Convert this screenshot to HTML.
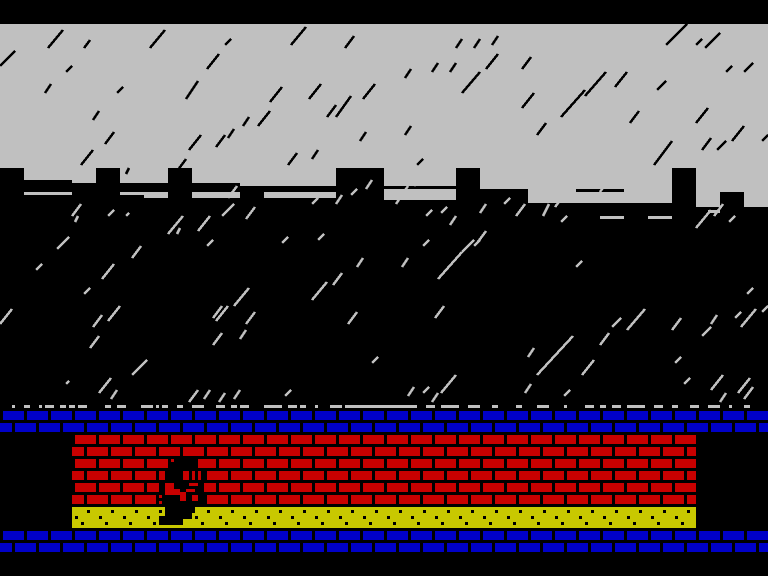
<!DOCTYPE html>
<html><head><meta charset="utf-8"><style>
html,body{margin:0;padding:0;background:#000;}
#w{position:relative;width:768px;height:576px;overflow:hidden;}
svg{display:block;position:absolute;left:0;top:0;}
.r{position:absolute;height:9px;}
.b{left:0;width:768px;background:repeating-linear-gradient(90deg,#0000c8 0 21px,transparent 21px 24px);}
.d{left:72px;width:624px;background:repeating-linear-gradient(90deg,#c80000 0 21px,transparent 21px 24px);}
.a{background-position:3px 0;}
.o{background-position:15px 0;}
</style></head><body><div id="w">
<svg width="768" height="576" viewBox="0 0 768 576" xmlns="http://www.w3.org/2000/svg" shape-rendering="crispEdges">
<rect width="768" height="576" fill="#000"/>
<rect x="0" y="24" width="768" height="190" fill="#c0c0c0"/>
<g fill="#000">
<rect x="0" y="168" width="24" height="60"/>
<rect x="24" y="180" width="48" height="50"/>
<rect x="72" y="183" width="24" height="50"/>
<rect x="96" y="168" width="24" height="60"/>
<rect x="120" y="183" width="48" height="50"/>
<rect x="168" y="168" width="24" height="60"/>
<rect x="192" y="183" width="48" height="50"/>
<rect x="240" y="186" width="96" height="50"/>
<rect x="336" y="168" width="48" height="60"/>
<rect x="384" y="200" width="72" height="30"/>
<rect x="384" y="186" width="72" height="3"/>
<rect x="456" y="168" width="24" height="60"/>
<rect x="480" y="189" width="48" height="50"/>
<rect x="528" y="203" width="48" height="30"/>
<rect x="576" y="189" width="48" height="3"/>
<rect x="576" y="203" width="96" height="30"/>
<rect x="672" y="168" width="24" height="60"/>
<rect x="696" y="207" width="24" height="30"/>
<rect x="720" y="192" width="24" height="40"/>
<rect x="744" y="207" width="24" height="30"/>
</g>
<g fill="#c0c0c0">
<rect x="24" y="192" width="48" height="3"/>
<rect x="120" y="192" width="48" height="3"/>
<rect x="144" y="192" width="24" height="6"/>
<rect x="192" y="192" width="48" height="6"/>
<rect x="264" y="192" width="72" height="6"/>
<rect x="600" y="216" width="24" height="3"/>
<rect x="648" y="216" width="24" height="3"/>
<rect x="708" y="210" width="12" height="3"/>
</g>
<g stroke="#000" stroke-width="2.5" fill="none">
<path d="M48 48 L63 30 M84 48 L90 40 M0 66 L15 51 M45 93 L51 84 M66 72 L72 66 M117 93 L123 87 M93 120 L99 111 M105 144 L114 132 M150 48 L165 30 M186 99 L198 81 M207 69 L219 54 M225 45 L231 39 M291 45 L306 27 M345 48 L354 36 M270 102 L282 87 M258 126 L270 111 M309 99 L321 84 M327 117 L336 105 M336 117 L351 96 M363 99 L375 84 M360 141 L366 132 M405 78 L411 69 M432 72 L438 63 M450 72 L456 63 M462 93 L480 72 M486 69 L498 54 M456 48 L462 39 M474 48 L480 39 M492 45 L498 36 M522 69 L531 57 M522 108 L534 93 M561 117 L585 90 M585 96 L606 72 M615 87 L627 72 M657 90 L666 81 M630 123 L639 111 M666 45 L681 30 M696 45 L702 39 M705 48 L720 33 M726 72 L732 66 M744 72 L753 63 M696 123 L708 108 M732 141 L744 126 M762 141 L768 135 M189 150 L201 135 M216 147 L225 135 M228 138 L234 129 M243 126 L249 117 M177 171 L186 159 M81 165 L93 150 M126 174 L129 168 M288 165 L297 153 M312 159 L318 150 M405 135 L411 126 M417 165 L423 159 M537 135 L546 123 M654 165 L672 141 M702 150 L711 138 M717 150 L726 141 M681 30 L687 24"/>
</g>
<g stroke="#c0c0c0" stroke-width="2.5" fill="none">
<path d="M72 216 L81 204 M75 222 L78 216 M108 216 L114 210 M126 216 L129 213 M168 234 L183 216 M177 234 L180 228 M198 231 L210 216 M222 216 L234 204 M246 219 L255 207 M228 198 L237 186 M312 204 L318 198 M336 204 L342 195 M351 195 L357 189 M366 189 L372 180 M396 204 L408 186 M414 186 L420 180 M426 216 L432 210 M441 213 L447 207 M450 225 L456 216 M477 243 L486 231 M480 213 L486 204 M504 204 L510 198 M516 216 L525 204 M543 216 L549 204 M555 207 L564 195 M561 222 L567 216 M600 192 L606 183 M696 228 L711 210 M714 216 L723 204 M729 222 L735 216 M36 270 L42 264 M57 249 L69 237 M84 294 L90 288 M102 279 L114 264 M132 258 L141 246 M207 246 L213 240 M234 306 L249 288 M216 321 L228 306 M246 324 L255 312 M282 243 L288 237 M318 240 L324 234 M312 300 L327 282 M333 285 L342 273 M357 267 L363 258 M402 267 L408 258 M423 246 L429 240 M438 279 L462 252 M462 252 L474 240 M474 246 L480 240 M576 267 L582 261 M0 324 L12 309 M93 327 L102 315 M108 321 L120 306 M90 348 L99 336 M213 318 L222 306 M213 345 L222 333 M240 339 L246 330 M348 324 L357 312 M372 363 L378 357 M435 318 L444 306 M537 375 L573 336 M528 357 L534 348 M582 375 L594 360 M600 345 L609 333 M612 327 L621 318 M627 330 L645 309 M672 330 L681 318 M711 324 L717 315 M702 336 L711 327 M741 327 L756 309 M747 294 L753 288 M735 318 L741 312 M762 312 L768 306 M675 363 L681 357 M684 384 L690 378 M711 390 L723 375 M738 393 L750 378 M744 399 L753 387 M66 384 L69 381 M99 393 L111 378 M132 375 L147 360 M111 399 L117 390 M189 402 L198 390 M204 399 L210 390 M219 402 L225 393 M234 399 L240 390 M285 396 L291 390 M408 396 L414 387 M423 393 L429 387 M432 402 L438 393 M441 393 L456 375 M564 396 L570 390 M525 393 L531 384 M720 402 L726 393"/>
</g>
<g fill="#c0c0c0">
<rect x="12" y="405" width="3" height="3"/><rect x="24" y="405" width="6" height="3"/><rect x="39" y="405" width="3" height="3"/><rect x="45" y="405" width="9" height="3"/><rect x="60" y="405" width="6" height="3"/><rect x="69" y="405" width="6" height="3"/><rect x="78" y="405" width="9" height="3"/><rect x="105" y="405" width="6" height="3"/><rect x="117" y="405" width="9" height="3"/><rect x="141" y="405" width="12" height="3"/><rect x="156" y="405" width="3" height="3"/><rect x="162" y="405" width="6" height="3"/><rect x="177" y="405" width="6" height="3"/><rect x="192" y="405" width="12" height="3"/><rect x="216" y="405" width="9" height="3"/><rect x="231" y="405" width="6" height="3"/><rect x="240" y="405" width="9" height="3"/><rect x="264" y="405" width="18" height="3"/><rect x="288" y="405" width="9" height="3"/><rect x="300" y="405" width="6" height="3"/><rect x="315" y="405" width="3" height="3"/><rect x="330" y="405" width="12" height="3"/><rect x="345" y="405" width="72" height="3"/><rect x="426" y="405" width="9" height="3"/><rect x="441" y="405" width="18" height="3"/><rect x="468" y="405" width="12" height="3"/><rect x="492" y="405" width="6" height="3"/><rect x="516" y="405" width="6" height="3"/><rect x="537" y="405" width="12" height="3"/><rect x="564" y="405" width="3" height="3"/><rect x="585" y="405" width="9" height="3"/><rect x="600" y="405" width="6" height="3"/><rect x="612" y="405" width="9" height="3"/><rect x="627" y="405" width="18" height="3"/><rect x="654" y="405" width="9" height="3"/><rect x="672" y="405" width="6" height="3"/><rect x="690" y="405" width="9" height="3"/><rect x="708" y="405" width="12" height="3"/><rect x="729" y="405" width="3" height="3"/><rect x="744" y="405" width="6" height="3"/>
</g>
</svg>
<div class="r b a" style="top:411px"></div>
<div class="r b o" style="top:423px"></div>
<div class="r d a" style="top:435px"></div>
<div class="r d o" style="top:447px"></div>
<div class="r d a" style="top:459px"></div>
<div class="r d o" style="top:471px"></div>
<div class="r d a" style="top:483px"></div>
<div class="r d o" style="top:495px"></div>
<div class="r b a" style="top:531px"></div>
<div class="r b o" style="top:543px"></div>
<svg width="768" height="576" viewBox="0 0 768 576" xmlns="http://www.w3.org/2000/svg" shape-rendering="crispEdges">
<defs>
<pattern id="dots" x="72" y="507" width="24" height="21" patternUnits="userSpaceOnUse"><rect x="15" y="3" width="3" height="3" fill="#000"/><rect x="3" y="9" width="3" height="3" fill="#000"/><rect x="9" y="15" width="3" height="3" fill="#000"/></pattern>
</defs>
<rect x="72" y="507" width="624" height="21" fill="#c8c800"/>
<rect x="72" y="507" width="624" height="21" fill="url(#dots)"/>
<g fill="#000">
<rect x="171" y="459" width="27" height="12"/>
<rect x="162" y="468" width="42" height="39"/>
<rect x="159" y="477" width="9" height="24"/>
<rect x="165" y="504" width="27" height="15"/>
<rect x="159" y="516" width="24" height="9"/>
<rect x="189" y="507" width="6" height="6"/>
</g>
<g fill="#c80000">
<rect x="171" y="459" width="3" height="3"/>
<rect x="159" y="471" width="6" height="9"/>
<rect x="165" y="483" width="9" height="12"/>
<rect x="174" y="489" width="6" height="6"/>
<rect x="180" y="492" width="6" height="9"/>
<rect x="183" y="471" width="6" height="9"/>
<rect x="192" y="471" width="3" height="9"/>
<rect x="198" y="471" width="3" height="9"/>
<rect x="189" y="483" width="9" height="3"/>
<rect x="186" y="489" width="9" height="3"/>
<rect x="192" y="495" width="6" height="6"/>
<rect x="159" y="495" width="3" height="3"/>
</g>
</svg>
</div></body></html>
